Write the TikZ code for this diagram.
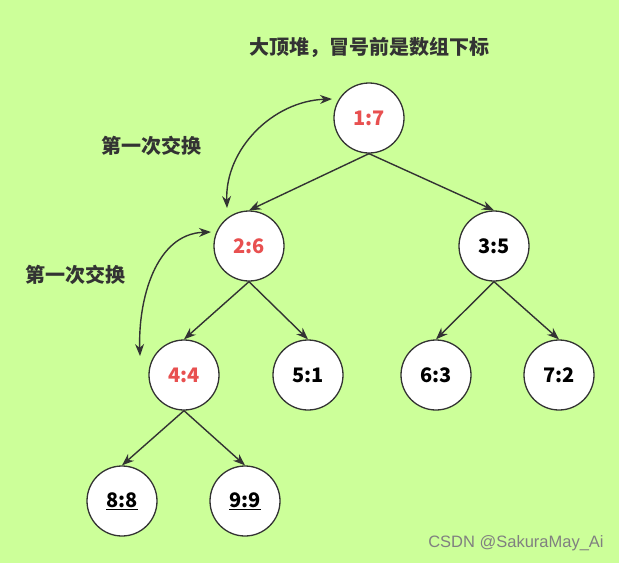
\documentclass[tikz,border=0pt]{standalone}
\usepackage{fontspec}
\setmainfont{Noto Sans CJK SC}
\newfontfamily\wmfont{Liberation Sans}
\usetikzlibrary{arrows.meta}
\definecolor{bg}{HTML}{CCFF99}
\definecolor{ink}{HTML}{333333}
\definecolor{hot}{HTML}{E85050}
\tikzset{
  heapnode/.style={circle, draw=ink, line width=1.3pt, fill=white, minimum size=70pt, inner sep=0pt, font=\fontsize{20}{20}\selectfont\bfseries, text=black},
  hotnode/.style={heapnode, text=hot},
  edge/.style={draw=ink, line width=1.4pt, -{Stealth[length=12pt,width=9pt]}},
  swap/.style={draw=ink, line width=1.4pt, {Stealth[length=12pt,width=9pt]}-{Stealth[length=12pt,width=9pt]}},
  caption/.style={font=\fontsize{20}{20}\selectfont\bfseries, text=ink}
}
\begin{document}
\begin{tikzpicture}[x=1pt,y=-1pt]
\fill[bg] (0,0) rectangle (619,563);
\useasboundingbox (0,0) rectangle (619,563);
\node[caption] (title) at (369,47) {大顶堆，冒号前是数组下标};
\node[caption] (lab1) at (151,146) {第一次交换};
\node[caption] (lab2) at (75,275) {第一次交换};
\node[hotnode] (n1) at (369,118) {1:7};
\node[hotnode] (n2) at (249,246) {2:6};
\node[heapnode] (n3) at (494,246) {3:5};
\node[hotnode] (n4) at (184,375) {4:4};
\node[heapnode] (n5) at (308,375) {5:1};
\node[heapnode] (n6) at (436,375) {6:3};
\node[heapnode] (n7) at (559,375) {7:2};
\node[heapnode] (n8) at (122,501) {\underline{8:8}};
\node[heapnode] (n9) at (245,501) {\underline{9:9}};
\draw[edge] (n1.south) -- (n2.north);
\draw[edge] (n1.south) -- (n3.north);
\draw[edge] (n2.south) -- (n4.north);
\draw[edge] (n2.south) -- (n5.north);
\draw[edge] (n3.south) -- (n6.north);
\draw[edge] (n3.south) -- (n7.north);
\draw[edge] (n4.south) -- (n8.north);
\draw[edge] (n4.south) -- (n9.north);
\coordinate (s1a) at (227,208);
\coordinate (s1b) at (332,99);
\coordinate (s2a) at (140,356);
\coordinate (s2b) at (211,232);
\draw[swap] (s1a) to[out=92,in=182] (s1b);
\draw[swap] (s2a) to[out=92,in=182] (s2b);
\node[font=\wmfont\fontsize{16.5}{16.5}\selectfont, text=gray] (wm) at (516,543) {CSDN @SakuraMay\_Ai};
\end{tikzpicture}
\end{document}
